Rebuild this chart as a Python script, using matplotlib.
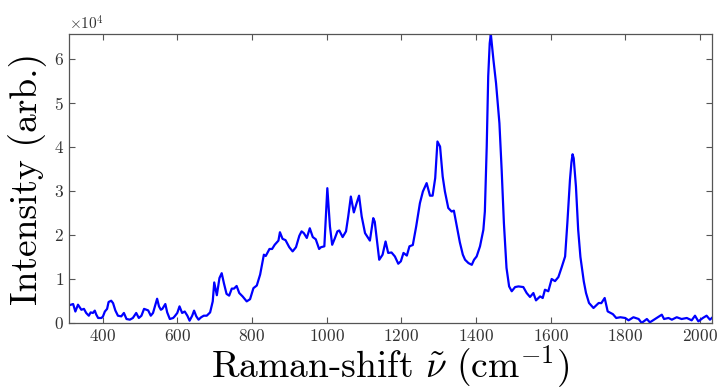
import matplotlib
matplotlib.use("Agg")
import matplotlib.pyplot as plt
from matplotlib.ticker import ScalarFormatter

plt.rcParams['font.family'] = 'serif'
plt.rcParams['font.serif'] = ['cmr10', 'DejaVu Serif']
plt.rcParams['mathtext.fontset'] = 'cm'
plt.rcParams['axes.unicode_minus'] = False
plt.rcParams['axes.formatter.use_mathtext'] = True

shift = [310, 321, 327, 334, 343, 350, 356, 363, 368, 374, 379, 383, 388, 397, 401, 406, 412, 416, 423, 428,
         434, 441, 450, 457, 464, 473, 481, 490, 497, 504, 511, 522, 529, 535, 540, 546, 551, 556, 560, 568,
         573, 580, 589, 593, 600, 606, 613, 620, 627, 633, 640, 645, 651, 657, 664, 671, 679, 688, 695, 699,
         706, 713, 719, 725, 732, 739, 746, 752, 759, 766, 775, 786, 795, 804, 813, 822, 832, 837, 847, 854,
         861, 871, 875, 882, 890, 900, 909, 918, 927, 933, 939, 947, 955, 963, 971, 980, 985, 994, 1002, 1009,
         1015, 1022, 1029, 1034, 1043, 1052, 1058, 1065, 1073, 1081, 1087, 1094, 1103, 1109, 1116, 1125, 1129,
         1141, 1150, 1158, 1165, 1174, 1183, 1192, 1199, 1206, 1215, 1222, 1231, 1240, 1250, 1258, 1268, 1277,
         1284, 1291, 1297, 1304, 1311, 1317, 1326, 1335, 1341, 1349, 1357, 1365, 1371, 1380, 1389, 1395, 1402,
         1411, 1420, 1424, 1429, 1433, 1437, 1440, 1443, 1447, 1454, 1463, 1469, 1475, 1482, 1489, 1496, 1505, 1514, 1527,
         1536, 1545, 1554, 1561, 1572, 1579, 1585, 1594, 1603, 1612, 1621, 1630, 1639, 1645, 1652, 1656, 1659, 1662,
         1668, 1674, 1680, 1689, 1695, 1703, 1715, 1729, 1736, 1745, 1753, 1767, 1776, 1787, 1800, 1809, 1822,
         1836, 1844, 1858, 1866, 1884, 1898, 1904, 1916, 1925, 1938, 1951, 1965, 1978, 1987, 1996, 2008, 2018,
         2027, 2032]
intensity = [4000, 4300, 2600, 4150, 3000, 3200, 2270, 1650, 2400, 2270, 2800, 1900, 1130, 1130, 1500, 2600, 3200, 4760, 5050, 4500,
             2860, 1650, 1500, 2270, 900, 750, 1130, 2270, 1130, 1650, 3200, 2860, 1650, 2270, 3770, 5500, 3770, 3000, 3200, 4300,
             2400, 900, 1130, 1500, 2270, 3770, 2270, 2600, 1650, 520, 1650, 2800, 1500, 750, 1300, 1650, 1650, 2400, 4900, 9200,
             6300, 10200, 11300, 9000, 6600, 6200, 7800, 7800, 8400, 6800, 6030, 4900, 5400, 7900, 8500, 11000, 15500, 15200, 16800, 16800,
             17750, 18700, 20600, 19100, 18800, 17200, 16250, 17200, 19800, 20800, 20400, 19300, 21500, 19500, 19000, 16800, 17200, 17400, 30600, 21900,
             17750, 19200, 20800, 21000, 19500, 20800, 24200, 28700, 25100, 27350, 28900, 24200, 20400, 19600, 18700, 23800, 23000,
             14350, 15500, 18500, 15900, 16000, 15100, 13450, 14000, 15900, 15300, 17400, 17700, 21900, 27200, 29850, 31750, 28900,
             28900, 32900, 41200, 40050, 33250, 29850, 26100, 25300, 25500, 21900, 18300, 15500, 14350, 13600, 13200, 14350, 15100,
             17400, 21150, 25300, 40050, 56000, 63500, 65600, 63000, 59700, 54400, 45350, 34770, 22700, 12500, 8300, 7200, 8150, 8300, 8150,
             6800, 5900, 6800, 5130, 6030, 5670, 7550, 7200, 9980, 9500, 10430, 12700, 15100, 22700, 32500, 36500, 38300, 37400,
             31000, 21150, 15000, 9450, 6800, 4540, 3400, 4540, 4500, 5670, 2630, 2000, 1130, 1300, 1130, 600, 1300,
             900, 0, 900, 140, 1130, 1880, 900, 1130, 750, 1300, 900, 1130, 600, 1650, 360, 1130, 1650,
             750, 1130]

xticks = [400, 600, 800, 1000, 1200, 1400, 1600, 1800, 2000]
yticks = [0, 10000, 20000, 30000, 40000, 50000, 60000]

fig = plt.figure(figsize=(7.19, 3.91), dpi=100)
ax = fig.add_axes([0.096, 0.174, 0.894, 0.739])
ax.plot(shift, intensity, color='#0000ff', linewidth=1.6)
ax.set_xlim(min(shift), max(shift))
ax.set_ylim(min(intensity), max(intensity))
ax.set_xticks(xticks)
ax.set_yticks(yticks)

fmt = ScalarFormatter(useMathText=True)
fmt.set_powerlimits((0, 0))
ax.yaxis.set_major_formatter(fmt)
ax.yaxis.get_offset_text().set_fontsize(11)
ax.yaxis.get_offset_text().set_color('#333333')

gray = '#555555'
for s in ax.spines.values():
    s.set_color(gray)
    s.set_linewidth(0.9)
ax.tick_params(direction='in', top=True, right=True, length=4, width=0.8,
               color=gray, labelcolor='#333333', labelsize=12.5)

ax.set_xlabel(r'Raman-shift $\tilde{\nu}$ (cm$^{-1}$)', fontsize=27, labelpad=0)
ax.set_ylabel('Intensity (arb.)', fontsize=27, labelpad=5)

fig.savefig('out.png', dpi=100)
